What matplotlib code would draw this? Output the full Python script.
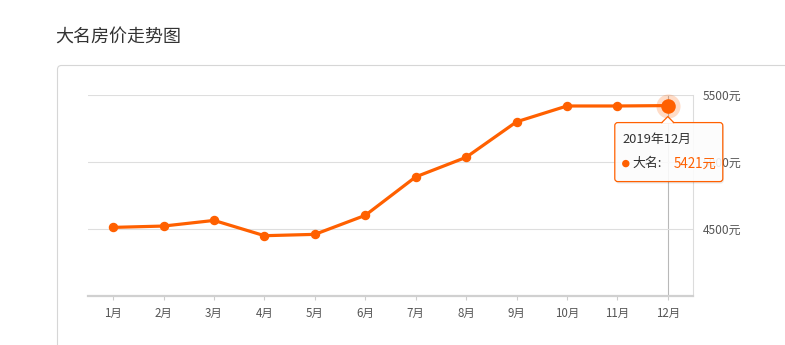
import matplotlib.pyplot as plt
import matplotlib.patches as mpatches
import matplotlib.transforms as mtransforms

plt.rcParams['font.family'] = ['Noto Sans CJK SC', 'DejaVu Sans']

# data
months = ['1月', '2月', '3月', '4月', '5月', '6月', '7月', '8月', '9月', '10月', '11月', '12月']
prices = [4512, 4522, 4564, 4450, 4460, 4602, 4889, 5035, 5300, 5418, 5418, 5421]
y_ticks = [4500, 5000, 5500]
title = '大名房价走势图'
tip_month = '2019年12月'
tip_city = '大名'

W, H = 785, 345
orange = '#ff6000'
pix = mtransforms.IdentityTransform()

fig = plt.figure(figsize=(W / 100, H / 100), dpi=100)

# title and card frame
fig.text(55 / W, 1 - 38 / H, title, fontsize=13, color='#333333', va='center')
card = mpatches.FancyBboxPatch((57.5, -20), 800, H - 65.5 + 20,
                               boxstyle='round,pad=0,rounding_size=4',
                               transform=pix, fc='none', ec='#d6d6d6', lw=0.8, zorder=-1)
fig.add_artist(card)

ax = fig.add_axes([88 / W, 49 / H, 605 / W, 201 / H])
ax.patch.set_visible(False)
x = list(range(len(months)))

ax.plot(x, prices, color=orange, lw=2.3, marker='o', ms=5.8, zorder=3, clip_on=False)
# highlighted last point
ax.scatter([x[-1]], [prices[-1]], s=300, color=orange, alpha=0.22, lw=0, zorder=2, clip_on=False)
ax.scatter([x[-1]], [prices[-1]], s=110, color=orange, lw=0, zorder=4, clip_on=False)
ax.axvline(x[-1], color='#b8b8b8', lw=0.8, zorder=1)

ax.set_xlim(-0.5, len(months) - 0.5)
ax.set_ylim(4000, 5500)
ax.set_xticks(x)
ax.set_xticklabels(months)
ax.yaxis.tick_right()
ax.set_yticks(y_ticks)
ax.set_yticklabels([f'{v}元' for v in y_ticks])
ax.grid(axis='y', color='#dedede', lw=0.8)
ax.grid(axis='x', visible=False)
ax.tick_params(axis='x', length=3, width=0.8, color='#cccccc', labelsize=8.3, labelcolor='#555555', pad=5)
ax.tick_params(axis='y', length=0, labelsize=8.6, labelcolor='#555555', pad=7)
for s in ['top', 'left']:
    ax.spines[s].set_visible(False)
ax.spines['bottom'].set_color('#d0d0d0')
ax.spines['bottom'].set_linewidth(1.6)
ax.spines['right'].set_color('#dcdcdc')
ax.spines['right'].set_linewidth(0.8)

# tooltip, placed relative to the highlighted point
px, py = ax.transData.transform((x[-1], prices[-1]))
bx0, bx1 = px - 53, px + 55
by_top, by_bot = py - 17, py - 76
shadow = mpatches.FancyBboxPatch((bx0 + 1, by_bot - 2), bx1 - bx0, by_top - by_bot,
                                 boxstyle='round,pad=0,rounding_size=3', transform=pix,
                                 fc='#000000', alpha=0.08, lw=0, zorder=9)
box = mpatches.FancyBboxPatch((bx0, by_bot), bx1 - bx0, by_top - by_bot,
                              boxstyle='round,pad=0,rounding_size=3', transform=pix,
                              fc=(1, 1, 1, 0.88), ec=orange, lw=0.9, zorder=10)
fig.add_artist(shadow)
fig.add_artist(box)
arrow_fill = mpatches.Polygon([(px - 6, by_top - 1), (px, by_top + 6), (px + 6, by_top - 1)],
                              closed=True, transform=pix, fc='white', lw=0, zorder=11)
fig.add_artist(arrow_fill)
fig.add_artist(plt.Line2D([px - 6, px, px + 6], [by_top, by_top + 6, by_top],
                          transform=pix, color=orange, lw=0.9, zorder=12))

fig.text(px - 45, py - 34, tip_month, transform=pix, fontsize=9.3, color='#333333',
         va='center', ha='left', zorder=13)
fig.add_artist(mpatches.Circle((px - 42, py - 58), 3, transform=pix, color=orange, zorder=13))
fig.text(px - 35, py - 58, f'{tip_city}:', transform=pix, fontsize=9.3, color='#333333',
         va='center', ha='left', zorder=13)
fig.text(px + 6, py - 58, f'{prices[-1]}元', transform=pix, fontsize=9.6, color=orange,
         va='center', ha='left', zorder=13)

fig.savefig('out.png', dpi=100)
